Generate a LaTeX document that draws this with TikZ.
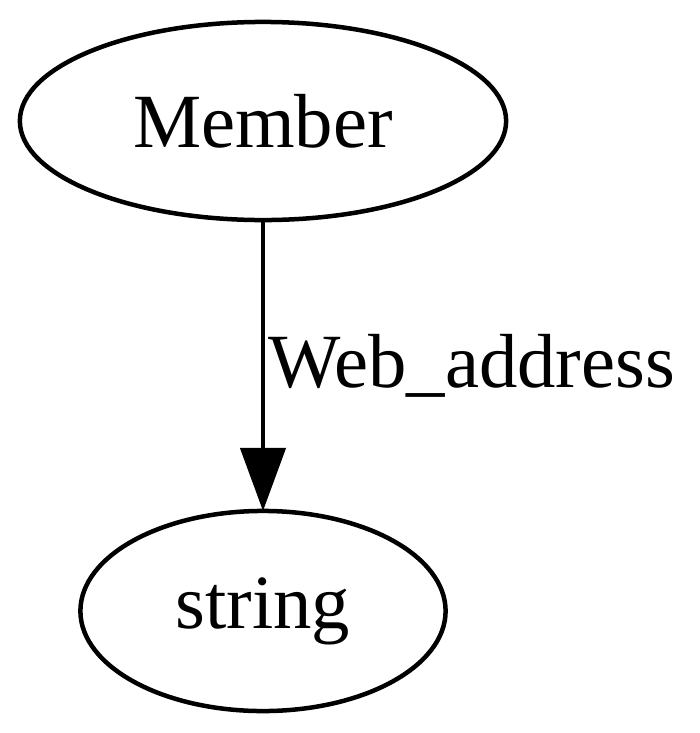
\documentclass[tikz,border=0pt]{standalone}
\usepackage{fontspec}
\setmainfont{Liberation Serif}
\usetikzlibrary{shapes.geometric,arrows.meta}
\tikzset{entity/.style={draw,ellipse,line width=0.045cm,inner sep=0pt,outer sep=0pt,font=\fontsize{21.8}{26}\selectfont}}
\tikzset{relation/.style={right,inner sep=0.03cm,font=\fontsize{21.8}{26}\selectfont}}
\colorlet{fg}{black}

\begin{document}
\begin{tikzpicture}[x=0.01cm,y=-0.01cm]
	    \useasboundingbox (0,0) rectangle (700,733);
	    \node[entity,minimum width=4.86cm,minimum height=1.98cm] (member) at (263,121) {Member};
	    \node[entity,minimum width=3.65cm,minimum height=2cm] (string) at (263,611) {string};
	    \draw[fg,line width=0.045cm,-{Triangle[length=0.63cm,width=0.45cm]}] (member) -- node[relation] {Web\_address} (string);
        \end{tikzpicture}
\end{document}
